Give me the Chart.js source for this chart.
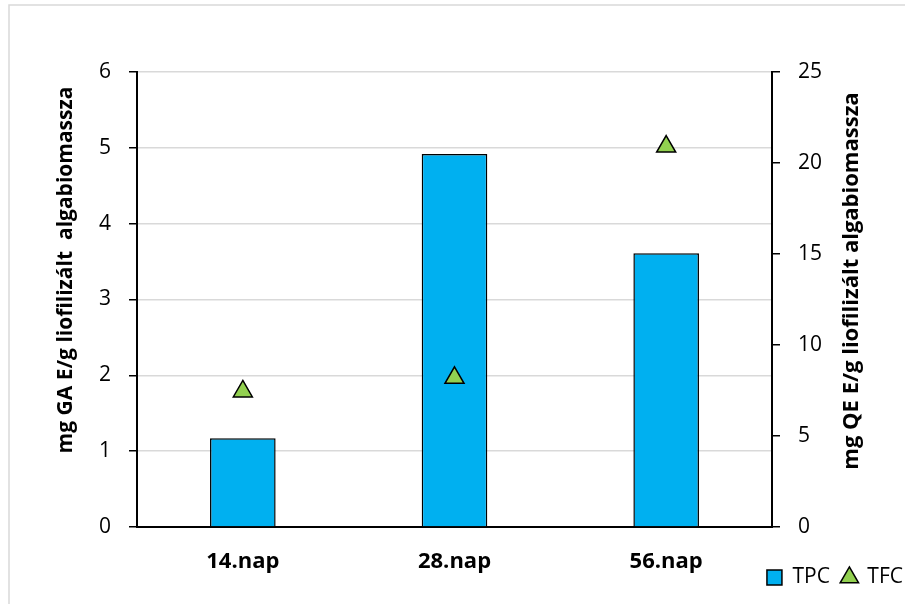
<!DOCTYPE html>
<html lang="hu">
<head>
  <meta charset="utf-8" />
  <title>TPC / TFC</title>
  <script src="https://cdn.jsdelivr.net/npm/chart.js"></script>
  <style>
    html, body { margin: 0; padding: 0; background: #fff; }
    #wrap { position: relative; width: 905px; height: 604px; }
  </style>
</head>
<body>
  <div id="wrap"><canvas id="chart" width="905" height="604"></canvas></div>
  <script>
    // adatok
    const napok = ['14.nap', '28.nap', '56.nap'];
    const tpc = [1.17, 4.92, 3.61];   // mg GA E/g (bal tengely)
    const tfc = [7.45, 8.2, 20.9];    // mg QE E/g (jobb tengely)
    const balCim = 'mg GA E/g liofilizált  algabiomassza';
    const jobbCim = 'mg QE E/g liofilizált algabiomassza';

    const fontFam = '"Open Sans", Lato, sans-serif';

    // bal és felső keret vonal
    const keret = {
      id: 'keret',
      beforeDraw(chart) {
        const ctx = chart.ctx;
        ctx.save();
        ctx.fillStyle = '#fff';
        ctx.fillRect(0, 0, chart.width, chart.height);
        ctx.strokeStyle = '#d9d9d9';
        ctx.lineWidth = 1.5;
        ctx.beginPath();
        ctx.moveTo(9, chart.height);
        ctx.lineTo(9, 5);
        ctx.lineTo(chart.width, 5);
        ctx.stroke();
        ctx.restore();
        // jelmagyarázat feljebb és jobbra, a kategória feliratok mellé
        chart.legend.top -= 20;
        chart.legend.right += 10;
      }
    };

    // tengelycímek alulról felfelé
    const cimek = {
      id: 'cimek',
      afterDraw(chart) {
        const ctx = chart.ctx;
        const rajz = (szoveg, x, y, meret) => {
          ctx.save();
          ctx.translate(x, y);
          ctx.rotate(-Math.PI / 2);
          ctx.font = 'bold ' + meret + 'px ' + fontFam;
          ctx.fillStyle = '#000';
          ctx.textAlign = 'center';
          ctx.textBaseline = 'middle';
          ctx.fillText(szoveg, 0, 0);
          ctx.restore();
        };
        rajz(balCim, 66, 270, 21);
        rajz(jobbCim, 852, 281, 22);
      }
    };

    const ctx = document.getElementById('chart').getContext('2d');
    new Chart(ctx, {
      type: 'bar',
      data: {
        labels: napok,
        datasets: [
          {
            label: 'TPC',
            data: tpc,
            yAxisID: 'y',
            backgroundColor: '#00b0f0',
            borderColor: '#000',
            borderWidth: 1.5,
            barPercentage: 0.31,
            categoryPercentage: 1,
            pointStyle: 'rect',
            order: 1
          },
          {
            type: 'line',
            label: 'TFC',
            data: tfc,
            yAxisID: 'y1',
            showLine: false,
            pointStyle: 'triangle',
            pointRadius: 11,
            pointBackgroundColor: '#92d050',
            pointBorderColor: '#000',
            pointBorderWidth: 1.5,
            backgroundColor: '#92d050',
            borderColor: '#000',
            borderWidth: 1.5,
            order: 0
          }
        ]
      },
      options: {
        responsive: false,
        animation: false,
        layout: { padding: { top: 72, left: 0, right: 0, bottom: -14 } },
        plugins: {
          tooltip: { enabled: false },
          legend: {
            position: 'bottom',
            align: 'end',
            labels: {
              usePointStyle: true,
              boxWidth: 15,
              boxHeight: 15,
              padding: 12,
              color: '#000',
              font: { family: fontFam, size: 21 },
              sort: (a, b) => a.datasetIndex - b.datasetIndex
            }
          }
        },
        scales: {
          x: {
            afterFit(s) { s.height = 48; },
            grid: { display: false, drawTicks: false, tickLength: 0 },
            border: { color: '#000', width: 2 },
            ticks: {
              color: '#000',
              padding: 22,
              font: { family: fontFam, size: 22, weight: 'bold' }
            }
          },
          y: {
            position: 'left',
            min: 0,
            max: 6,
            afterFit(s) { s.width = 137; },
            grid: { color: '#d9d9d9', lineWidth: 1.5, tickColor: '#000', tickLength: 8 },
            border: { color: '#000', width: 2 },
            ticks: {
              stepSize: 1,
              color: '#000',
              padding: 18,
              font: { family: fontFam, size: 21 }
            }
          },
          y1: {
            position: 'right',
            min: 0,
            max: 25,
            afterFit(s) { s.width = 905 - 772; },
            grid: { drawOnChartArea: false, color: '#000', tickColor: '#000', tickLength: 8, lineWidth: 1.5 },
            border: { color: '#000', width: 2 },
            ticks: {
              stepSize: 5,
              color: '#000',
              padding: 18,
              font: { family: fontFam, size: 21 }
            }
          }
        }
      },
      plugins: [keret, cimek]
    });
  </script>
</body>
</html>
